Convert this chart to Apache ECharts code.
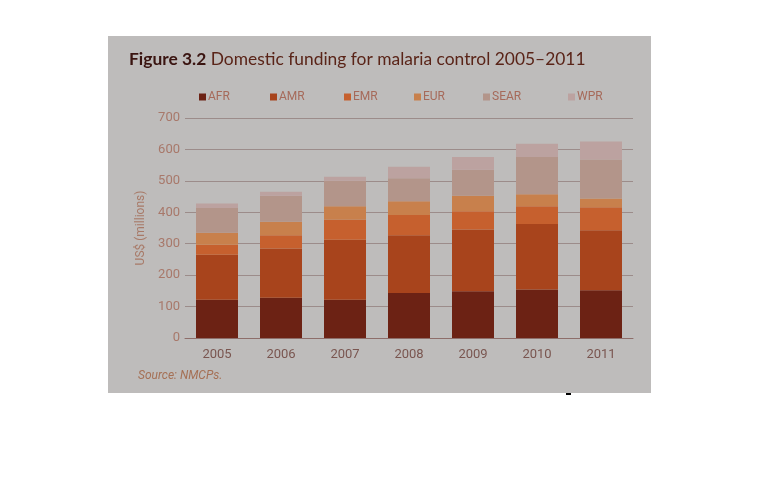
<!DOCTYPE html>
<html>
<head>
<meta charset="utf-8">
<script src="https://cdn.jsdelivr.net/npm/echarts@6/dist/echarts.min.js"></script>
<style>
html,body{margin:0;padding:0;background:#ffffff;}
#panel{position:absolute;left:108px;top:36px;width:543px;height:357px;background:#bebcbb;}
#chart{position:absolute;left:0;top:0;width:758px;height:488px;}
#dash{position:absolute;left:566px;top:393px;width:5px;height:2px;background:#000;}
</style>
</head>
<body>
<div id="panel"></div>
<div id="dash"></div>
<div id="chart"></div>
<script>
var years = ['2005','2006','2007','2008','2009','2010','2011'];
var AFR  = [122, 128, 122, 143, 149, 154, 152];
var AMR  = [143, 157, 191, 184, 196, 209, 191];
var EMR  = [32, 42, 64, 64, 58, 56, 73];
var EUR  = [38, 43, 42, 44, 50, 38, 28];
var SEAR = [79, 83, 81, 73, 82, 119, 124];
var WPR  = [14, 12, 13, 37, 41, 42, 57];
var seriesNames = ['AFR','AMR','EMR','EUR','SEAR','WPR'];
var seriesData = [AFR, AMR, EMR, EUR, SEAR, WPR];
var colors = ['#6c2214','#a8441c','#c6602e','#c8804c','#b3958a','#bca2a0'];
var yTicks = [0,100,200,300,400,500,600,700];

var narrow = 'Roboto, "Liberation Sans", sans-serif';
var chart = echarts.init(document.getElementById('chart'), null, {renderer:'canvas'});
var legendLeft = [194, 265, 339, 409, 478, 563];
var legends = seriesNames.map(function(n, i){
  return {
    data:[n], left: legendLeft[i], top: 86, icon:'rect', itemWidth:7, itemHeight:7,
    textStyle:{color:'#a66a5a', fontFamily: narrow, fontSize:12, padding:[0,0,0,-3]},
    selectedMode:false
  };
});
var series = seriesNames.map(function(n, i){
  return {
    name:n, type:'bar', stack:'total', data: seriesData[i], barWidth:42,
    itemStyle:{color: colors[i]}, emphasis:{disabled:true}
  };
});
chart.setOption({
  animation:false,
  color: colors,
  title:{
    text:'{b|Figure 3.2} Domestic funding for malaria control 2005\u20132011',
    left:124, top:46,
    textStyle:{
      fontFamily:'Lato, "Open Sans", sans-serif', fontSize:17.4, fontWeight:'normal', color:'#5a2418',
      rich:{ b:{fontFamily:'Lato, "Open Sans", sans-serif', fontSize:17.4, fontWeight:'bold', color:'#3a1410'} }
    }
  },
  legend: legends,
  grid:{left:185, top:118, width:448, height:220, containLabel:false},
  xAxis:{
    type:'category', data: years,
    axisLine:{lineStyle:{color:'#8e6e6a', width:1}},
    axisTick:{alignWithLabel:true, length:4, lineStyle:{color:'#8e6e6a'}},
    axisLabel:{color:'#7a5650', fontFamily: narrow, fontSize:13, margin:10}
  },
  yAxis:{
    type:'value', min:0, max:700, interval:100,
    name:'US$ (millions)', nameLocation:'middle', nameGap:37, nameRotate:90,
    nameTextStyle:{color:'#a87a68', fontFamily: narrow, fontSize:12},
    axisLine:{show:false}, axisTick:{show:false},
    axisLabel:{color:'#a8786a', fontFamily: narrow, fontSize:13, margin:5,
      formatter:function(v){ return yTicks.indexOf(v) >= 0 ? String(v) : ''; }},
    splitLine:{lineStyle:{color:'#9c8c8a', width:1}}
  },
  graphic:[
    {type:'text', left:138, top:370,
     style:{text:'Source: NMCPs.', fill:'#a57055', font:'italic 12px ' + narrow}}
  ],
  series: series
});
</script>
</body>
</html>
